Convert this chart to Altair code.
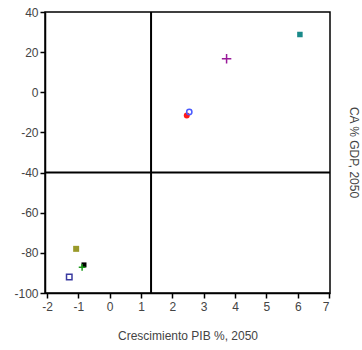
import altair as alt
import pandas as pd

series = ["S1", "S2", "S3", "S4", "S5", "S6", "S7", "S8"]
growth = [6.07, 3.73, 2.54, 2.46, -1.07, -0.82, -0.88, -1.29]
ca_gdp = [28.8, 16.7, -9.8, -11.6, -78.0, -86.0, -87.2, -92.0]
x_ticks = [-2, -1, 0, 1, 2, 3, 4, 5, 6, 7]
y_ticks = [-100, -80, -60, -40, -20, 0, 20, 40]
vline = [1.32]
hline = [-40]

df = pd.DataFrame({"series": series, "x": growth, "y": ca_gdp})

colors = ["#1a8a8a", "#9a1a9a", "#4a5aff", "#ff1a1a", "#9a9a2a", "#000000", "#1a9a1a", "#3a3aa0"]
plus = "M-1,0L1,0M0,-1L0,1"
xsq = "M-1,-1L1,-1L1,1L-1,1Z M-1,-1L1,1M1,-1L-1,1"
shapes = [xsq, plus, "circle", "circle", "square", "square", plus, "square"]
sizes = [30, 90, 28, 36, 36, 25, 45, 30]
filled_series = ["S1", "S4", "S5", "S6"]

xs = alt.Scale(domain=[-2.064, 7.03], nice=False, zero=False)
ys = alt.Scale(domain=[-100, 40], nice=False, zero=False)

lbl = "datum.value < 0 ? '-' + abs(datum.value) : '' + datum.value"
xaxis = alt.Axis(values=x_ticks, title="Crescimiento PIB %, 2050", grid=False,
                 titlePadding=18, labelPadding=3, labelExpr=lbl)
yaxis = alt.Axis(values=y_ticks, title="CA % GDP, 2050", grid=False,
                 titleX=308, titleAngle=90, titleY=140, titleBaseline="middle",
                 titleAlign="center", labelPadding=2, labelExpr=lbl)

base = alt.Chart(df)
enc = dict(
    x=alt.X("x:Q", scale=xs, axis=xaxis),
    y=alt.Y("y:Q", scale=ys, axis=yaxis),
    color=alt.Color("series:N", scale=alt.Scale(domain=series, range=colors), legend=None),
    shape=alt.Shape("series:N", scale=alt.Scale(domain=series, range=shapes), legend=None),
    size=alt.Size("series:N", scale=alt.Scale(type="ordinal", domain=series, range=sizes), legend=None),
)

pts_filled = base.transform_filter(
    alt.FieldOneOfPredicate(field="series", oneOf=filled_series)
).mark_point(filled=True, opacity=1).encode(**enc)

pts_open = base.transform_filter(
    alt.FieldOneOfPredicate(field="series", oneOf=[s for s in series if s not in filled_series])
).mark_point(filled=False, strokeWidth=1.5, opacity=1).encode(**enc)

vrule = alt.Chart(pd.DataFrame({"v": vline})).mark_rule(color="black", strokeWidth=2).encode(
    x=alt.X("v:Q", scale=xs, axis=xaxis)
)
hrule = alt.Chart(pd.DataFrame({"h": hline})).mark_rule(color="black", strokeWidth=2).encode(
    y=alt.Y("h:Q", scale=ys, axis=yaxis)
)

chart = alt.layer(vrule, hrule, pts_filled, pts_open).properties(
    width=285, height=281,
    autosize=alt.AutoSizeParams(type="none"),
    padding={"left": 45, "top": 12, "right": 32, "bottom": 57},
).configure_view(
    stroke="black", strokeWidth=1.5
).configure_axis(
    labelFont="Liberation Sans", titleFont="Liberation Sans",
    labelFontSize=12, titleFontSize=12, labelColor="#444", titleColor="#444",
    titleFontWeight="normal", tickColor="black", tickSize=5, tickWidth=1.5,
    domainColor="black", domainWidth=1.5,
)

chart.save("out.html", embed_options={"renderer": "svg", "actions": False})
